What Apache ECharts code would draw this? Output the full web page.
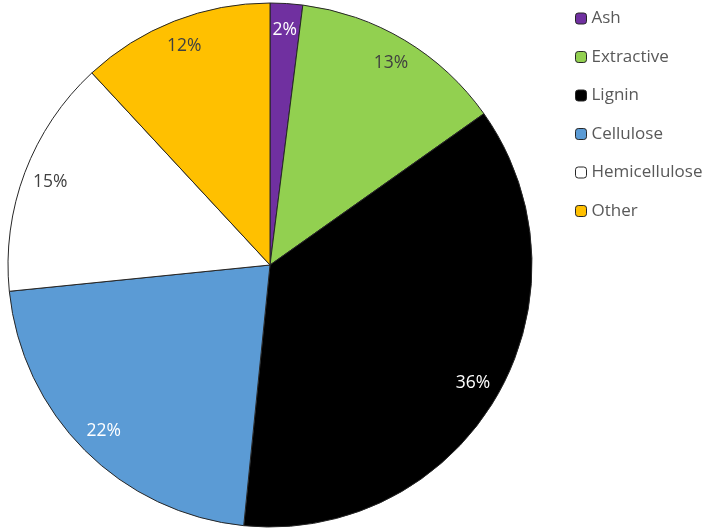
<!DOCTYPE html>
<html><head><meta charset="utf-8">
<script src="https://cdn.jsdelivr.net/npm/echarts@6/dist/echarts.min.js"></script>
<style>html,body{margin:0;padding:0;background:#fff}#c{width:709px;height:528px}</style>
</head><body><div id="c"></div>
<script>
const categories = ['Ash', 'Extractive', 'Lignin', 'Cellulose', 'Hemicellulose', 'Other'];
const values = [2.0, 13.2, 36.4, 21.8, 14.7, 11.9];
const colors = ['#7030A0', '#92D050', '#000000', '#5B9BD5', '#FFFFFF', '#FFC000'];
const labelColors = ['#FFFFFF', '#404040', '#FFFFFF', '#FFFFFF', '#404040', '#404040'];

const chart = echarts.init(document.getElementById('c'));
const mainData = categories.map((n, i) => ({ name: n, value: values[i], itemStyle: { color: colors[i] } }));
const labelData = categories.map((n, i) => ({ name: n, value: values[i], label: { color: labelColors[i] } }));
chart.setOption({
  animation: false,
  legend: {
    orient: 'vertical', left: 570, top: 5,
    itemWidth: 11, itemHeight: 11, itemGap: 21.5,
    data: categories,
    itemStyle: { borderColor: '#262626', borderWidth: 1 },
    textStyle: { fontFamily: 'Open Sans', fontSize: 17, color: '#595959', lineHeight: 17 }
  },
  series: [
    {
      type: 'pie', center: [270, 265], radius: [0, 262], startAngle: 90, clockwise: true,
      data: mainData, label: { show: false }, labelLine: { show: false },
      itemStyle: { borderColor: '#262626', borderWidth: 1 },
      emphasis: { disabled: true }
    },
    {
      type: 'pie', center: [270, 265], radius: [202, 262], startAngle: 90, clockwise: true,
      data: labelData, silent: true, legendHoverLink: false,
      itemStyle: { color: 'rgba(0,0,0,0)', borderWidth: 0 },
      label: { show: true, position: 'inside', formatter: p => Math.round(p.percent) + '%', fontFamily: 'Open Sans', fontSize: 17.5 },
      labelLine: { show: false },
      emphasis: { disabled: true }
    }
  ]
});
</script></body></html>
